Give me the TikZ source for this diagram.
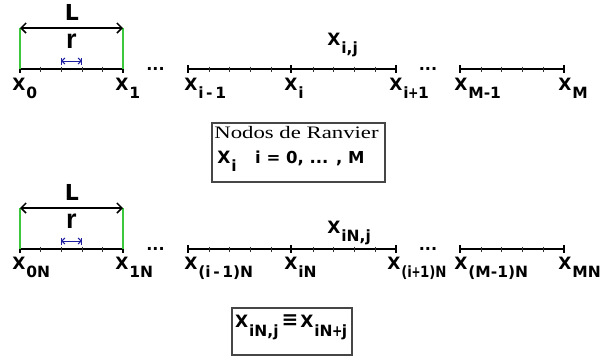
\documentclass[tikz,border=0pt]{standalone}
\usepackage{graphicx}
\usepackage{fontspec}
\setmainfont{DejaVu Sans}
\newfontfamily\serifx{Liberation Serif}
\newfontfamily\narrowx{Liberation Sans}
\usetikzlibrary{arrows.meta}
\definecolor{guidegreen}{RGB}{60,200,60}
\definecolor{rblue}{RGB}{30,30,160}
\definecolor{framegray}{RGB}{70,70,70}
\newcommand\subf{\fontsize{15.5}{15.5}\selectfont}
\newcommand\Xlab[3]{\node[xl] (#1) at (#2) {X\rlap{\kern0.8pt\raisebox{-8.5pt}{\subf #3}}};}
\newcommand\tplus{\kern-0.5pt\scalebox{0.8}[1]{+}\kern-0.5pt}
\tikzset{
  xl/.style={anchor=base, inner sep=0pt, font=\bfseries\fontsize{17}{17}\selectfont},
  axisline/.style={line width=1.7pt, black},
  majortick/.style={line width=1.3pt, black},
  minortick/.style={line width=0.6pt, black!80},
  guideline/.style={line width=1.2pt, guidegreen},
  dimarrow/.style={line width=1.5pt, black, arrows={Straight Barb[length=5pt,width=10pt]-Straight Barb[length=5pt,width=10pt]}},
  rarrow/.style={line width=1pt, rblue, arrows={Straight Barb[length=3pt,width=6pt]-Straight Barb[length=3pt,width=6pt]}},
  rbar/.style={line width=1pt, rblue},
  boxframe/.style={draw=framegray, line width=1.3pt, inner sep=0pt, fill=white},
  bigletter/.style={anchor=base, inner sep=0pt, font=\bfseries\fontsize{22}{22}\selectfont},
  rletter/.style={anchor=base, inner sep=0pt, font=\narrowx\bfseries\fontsize{27}{27}\selectfont},
  dots/.style={anchor=base, inner sep=0pt, font=\bfseries\fontsize{16}{16}\selectfont},
}
\begin{document}
\begin{tikzpicture}[x=1pt,y=-1pt]
\useasboundingbox[fill=white] (0,0) rectangle (600,360);

\foreach \yy/\tag in {69/t, 249/b}{
  % segment 1
  \coordinate (\tag a0) at (20,\yy);
  \coordinate (\tag a1) at (123,\yy);
  \draw[axisline] (\tag a0) -- (\tag a1);
  \foreach \xx in {20,123} \draw[majortick] (\xx,\yy-4) -- (\xx,\yy+4);
  \foreach \k in {1,...,4} \draw[minortick] ({20+\k*20.6},\yy-2.5) -- ({20+\k*20.6},\yy+2.5);
  % segment 2
  \coordinate (\tag b0) at (188,\yy);
  \coordinate (\tag b1) at (396,\yy);
  \draw[axisline] (\tag b0) -- (\tag b1);
  \foreach \xx in {188,291,396} \draw[majortick] (\xx,\yy-4) -- (\xx,\yy+4);
  \foreach \k in {1,...,4,6,7,8,9} \draw[minortick] ({188+\k*20.8},\yy-2.5) -- ({188+\k*20.8},\yy+2.5);
  % segment 3
  \coordinate (\tag c0) at (460,\yy);
  \coordinate (\tag c1) at (564,\yy);
  \draw[axisline] (\tag c0) -- (\tag c1);
  \foreach \xx in {460,564} \draw[majortick] (\xx,\yy-4) -- (\xx,\yy+4);
  \foreach \k in {1,...,4} \draw[minortick] ({460+\k*20.8},\yy-2.5) -- ({460+\k*20.8},\yy+2.5);
  % ellipses
  \node[dots] (\tag dotsA) at (155.5,\yy+1) {...};
  \node[dots] (\tag dotsB) at (428,\yy+1) {...};
  % L dimension
  \coordinate (\tag gl) at (20,\yy-41);
  \coordinate (\tag gr) at (123,\yy-41);
  \draw[guideline] (\tag gl) -- (\tag a0);
  \draw[guideline] (\tag gr) -- (\tag a1);
  \draw[dimarrow] (\tag gl) -- (\tag gr);
  \node[bigletter] (\tag L) at (72,\yy-49) {L};
  % r dimension
  \coordinate (\tag rl) at (61.2,\yy-8);
  \coordinate (\tag rr) at (81.8,\yy-8);
  \draw[rbar] (61.2,\yy-11) -- (61.2,\yy-4);
  \draw[rbar] (81.8,\yy-11) -- (81.8,\yy-4);
  \draw[rarrow] (\tag rl) -- (\tag rr);
  \node[rletter] (\tag r) at (71.5,\yy-21) {r};
}

% top labels
\Xlab{x0}{19,90}{0}
\Xlab{x1}{122,90}{1}
\Xlab{xim}{191,90}{i\,-\,1}
\Xlab{xi}{291,90}{i}
\Xlab{xip}{396,90}{i\tplus 1}
\Xlab{xMm}{461,90}{M-1}
\Xlab{xM}{565,90}{M}
\Xlab{xij}{334,45}{i,j}

% top box
\node[boxframe, minimum width=173pt, minimum height=59pt] (box1) at (298.5,152.5) {};
\node[anchor=base, inner sep=0pt] (nodos) at (296.5,138) {\serifx\fontsize{17.5}{17.5}\selectfont\scalebox{1.3}[1]{Nodos de Ranvier}};
\Xlab{boxxi}{224,163}{i}
\node[anchor=base west, inner sep=0pt, font=\bfseries\fontsize{16.5}{16.5}\selectfont] (range) at (255,163) {i = 0, ... , M};

% bottom labels
\Xlab{y0}{19,269}{0N}
\Xlab{y1}{122,269}{1N}
\Xlab{yim}{191,269}{(i\,-\,1)N}
\Xlab{yi}{291,269}{iN}
\Xlab{yip}{394,269}{\scalebox{0.86}[1]{(i\tplus 1)N}}
\Xlab{yMm}{461,269}{(M-1)N}
\Xlab{yM}{565,269}{MN}
\Xlab{yij}{334,233}{iN,j}

% bottom box
\node[boxframe, minimum width=120pt, minimum height=47pt] (box2) at (292,331.5) {};
\node[anchor=base west, inner sep=0pt, font=\bfseries\fontsize{17}{17}\selectfont] (equiv) at (235,327)
  {X\kern0.8pt\raisebox{-9pt}{\subf iN,j}\kern3pt{\fontsize{20}{20}\selectfont\raisebox{1pt}{≡}}\kern2pt X\kern0.8pt\raisebox{-9pt}{\subf iN\tplus j}};
\end{tikzpicture}
\end{document}
